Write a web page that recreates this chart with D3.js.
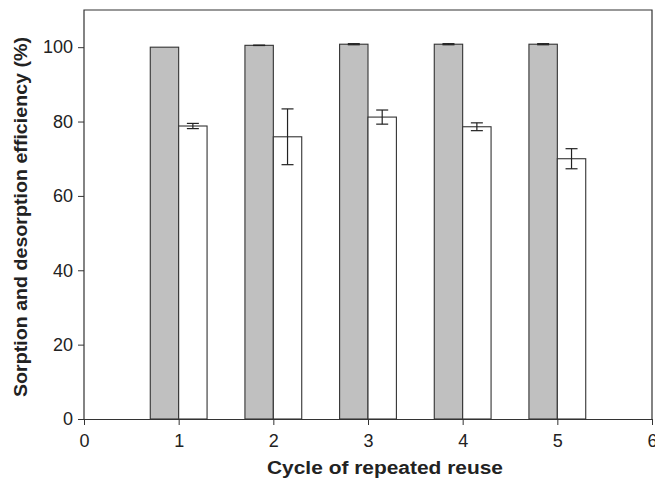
<!DOCTYPE html>
<html>
<head>
<meta charset="utf-8">
<script src="https://cdn.jsdelivr.net/npm/d3@7"></script>
<style>
  body { margin: 0; background: #fff; }
  svg { display: block; font-family: "Liberation Sans", Arial, sans-serif; }
</style>
</head>
<body>
<div id="chart"></div>
<script>
// cycles of reuse
const cycles = [1, 2, 3, 4, 5];
// sorption efficiency (%) and its error
const sorption = [100.0, 100.5, 100.8, 100.8, 100.8];
const sorptionErr = [0.0, 0.05, 0.15, 0.15, 0.15];
// desorption efficiency (%) and its error
const desorption = [78.8, 75.9, 81.2, 78.6, 70.0];
const desorptionErr = [0.7, 7.5, 1.9, 1.05, 2.7];
const xTicks = [0, 1, 2, 3, 4, 5, 6];
const yTicks = [0, 20, 40, 60, 80, 100];

const W = 655, H = 485;
const margin = { top: 10, right: 3, bottom: 66, left: 84 };
const iw = W - margin.left - margin.right;
const ih = H - margin.top - margin.bottom;
const barW = 0.3; // in x units

const svg = d3.select('#chart').append('svg')
  .attr('width', W)
  .attr('height', H);

const g = svg.append('g')
  .attr('transform', `translate(${margin.left},${margin.top})`);

const x = d3.scaleLinear().domain([0, 6]).range([0, iw]);
const y = d3.scaleLinear().domain([0, 110]).range([ih, 0]);

// frame (left, top, right)
g.append('path')
  .attr('d', `M0,${ih}V0H${iw}V${ih}`)
  .attr('fill', 'none')
  .attr('stroke', '#333')
  .attr('stroke-width', 1.2);

// bars - sorption (grey, left of tick)
g.selectAll('rect.sorp')
  .data(cycles).enter().append('rect')
  .attr('class', 'sorp')
  .attr('x', (d) => x(d - barW))
  .attr('y', (d, i) => y(sorption[i]))
  .attr('width', x(barW) - x(0))
  .attr('height', (d, i) => y(0) - y(sorption[i]))
  .attr('fill', '#c0c0c0')
  .attr('stroke', '#333')
  .attr('stroke-width', 1.1);

// bars - desorption (white, right of tick)
g.selectAll('rect.desorp')
  .data(cycles).enter().append('rect')
  .attr('class', 'desorp')
  .attr('x', (d) => x(d))
  .attr('y', (d, i) => y(desorption[i]))
  .attr('width', x(barW) - x(0))
  .attr('height', (d, i) => y(0) - y(desorption[i]))
  .attr('fill', '#fff')
  .attr('stroke', '#333')
  .attr('stroke-width', 1.1);

// error bars
function errorBars(vals, errs, offset) {
  const capHalf = 6;
  cycles.forEach((c, i) => {
    if (!errs[i]) return;
    const cx = x(c + offset);
    const top = y(vals[i] + errs[i]);
    const bot = y(vals[i] - errs[i]);
    const eg = g.append('g')
      .attr('stroke', '#222')
      .attr('stroke-width', 1.2);
    eg.append('line').attr('x1', cx).attr('x2', cx).attr('y1', top).attr('y2', bot);
    eg.append('line').attr('x1', cx - capHalf).attr('x2', cx + capHalf).attr('y1', top).attr('y2', top);
    eg.append('line').attr('x1', cx - capHalf).attr('x2', cx + capHalf).attr('y1', bot).attr('y2', bot);
  });
}
errorBars(sorption, sorptionErr, -barW / 2);
errorBars(desorption, desorptionErr, barW / 2);

// x axis
const xa = g.append('g')
  .attr('transform', `translate(0,${ih})`)
  .call(d3.axisBottom(x).tickValues(xTicks).tickFormat(d3.format('d'))
    .tickSize(6).tickPadding(9).tickSizeOuter(0));
xa.select('.domain').attr('stroke', '#333').attr('stroke-width', 1.2);
xa.selectAll('.tick line').attr('stroke', '#333');
xa.selectAll('.tick text').attr('font-size', 18).attr('fill', '#222');

// y axis
const ya = g.append('g')
  .call(d3.axisLeft(y).tickValues(yTicks).tickFormat(d3.format('d'))
    .tickSize(6).tickPadding(5).tickSizeOuter(0));
ya.select('.domain').remove();
ya.selectAll('.tick line').attr('stroke', '#333');
ya.selectAll('.tick text').attr('font-size', 18).attr('fill', '#222');

// axis titles
svg.append('text')
  .attr('x', 385)
  .attr('y', 474)
  .attr('text-anchor', 'middle')
  .attr('font-size', 18)
  .attr('font-weight', 'bold')
  .attr('fill', '#222')
  .attr('textLength', 236)
  .attr('lengthAdjust', 'spacingAndGlyphs')
  .text('Cycle of repeated reuse');

svg.append('text')
  .attr('transform', `translate(27,217) rotate(-90)`)
  .attr('text-anchor', 'middle')
  .attr('font-size', 18)
  .attr('font-weight', 'bold')
  .attr('fill', '#222')
  .attr('textLength', 360)
  .attr('lengthAdjust', 'spacingAndGlyphs')
  .text('Sorption and desorption efficiency (%)');
</script>
</body>
</html>
